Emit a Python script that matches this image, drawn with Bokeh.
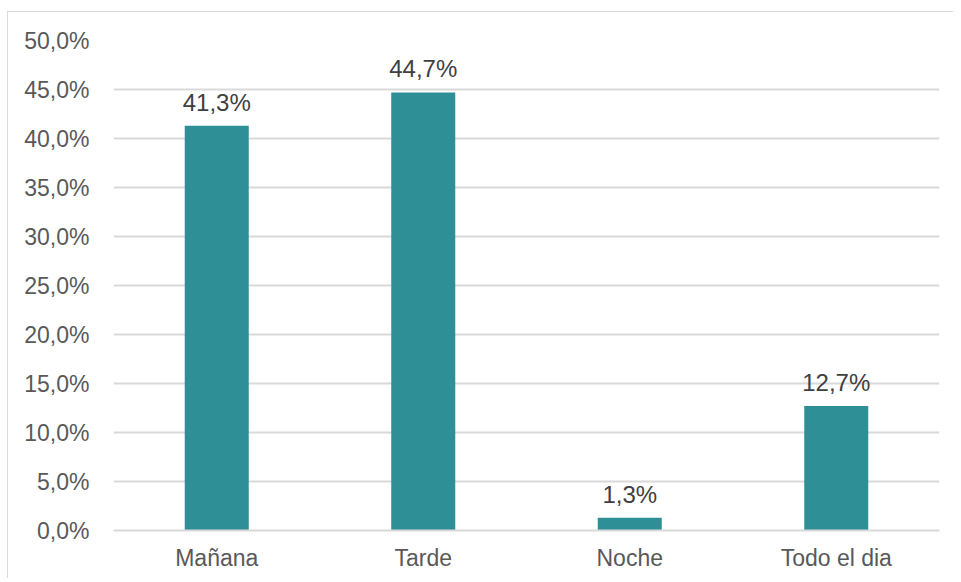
from bokeh.plotting import figure
from bokeh.models import ColumnDataSource, FixedTicker, CustomJSTickFormatter, LabelSet, Range1d
from bokeh.core.properties import value
from bokeh.embed import file_html
from bokeh.resources import INLINE

categories = ["Mañana", "Tarde", "Noche", "Todo el dia"]
values = [41.3, 44.7, 1.3, 12.7]
labels = ["41,3%", "44,7%", "1,3%", "12,7%"]
y_ticks = [0, 5, 10, 15, 20, 25, 30, 35, 40, 45, 50]

src = ColumnDataSource(dict(cat=categories, val=values, lab=labels))

p = figure(x_range=categories, y_range=Range1d(0, 50), width=946, height=567,
           output_backend="svg", toolbar_location=None,
           min_border_left=105, min_border_right=15, min_border_top=28, min_border_bottom=49)
p.x_range.range_padding = 0
p.vbar(x="cat", top="val", width=0.31, source=src, fill_color="#2E8F96", line_color=None)

p.add_layout(LabelSet(x="cat", y="val", text="lab", source=src, text_align="center",
                      text_baseline="alphabetic", y_offset=15, text_font_size="24px",
                      text_color="#404040", text_font=value("Liberation Sans")))

p.outline_line_color = None
p.styles = {"border-left": "1px solid #d9d9d9", "border-top": "1px solid #d9d9d9",
            "margin-left": "7px", "margin-top": "11px"}

p.yaxis.ticker = FixedTicker(ticks=y_ticks)
p.yaxis.formatter = CustomJSTickFormatter(code="return tick.toFixed(1).replace('.', ',') + '%';")
p.yaxis.axis_line_color = None
p.yaxis.major_tick_line_color = None
p.yaxis.minor_tick_line_color = None
p.yaxis.major_label_standoff = 18
p.yaxis.major_label_text_font_size = "23px"
p.yaxis.major_label_text_color = "#595959"
p.yaxis.major_label_text_font = "Liberation Sans"

p.xaxis.axis_line_color = "#d9d9d9"
p.xaxis.axis_line_width = 2
p.xaxis.major_tick_line_color = None
p.xaxis.minor_tick_line_color = None
p.xaxis.major_label_standoff = 8
p.xaxis.major_label_text_font_size = "23px"
p.xaxis.major_label_text_color = "#595959"
p.xaxis.major_label_text_font = "Liberation Sans"

p.xgrid.grid_line_color = None
p.ygrid.grid_line_color = "#d9d9d9"
p.ygrid.grid_line_width = 2
p.ygrid.ticker = FixedTicker(ticks=y_ticks)

open("out.html", "w").write(file_html(p, INLINE))
